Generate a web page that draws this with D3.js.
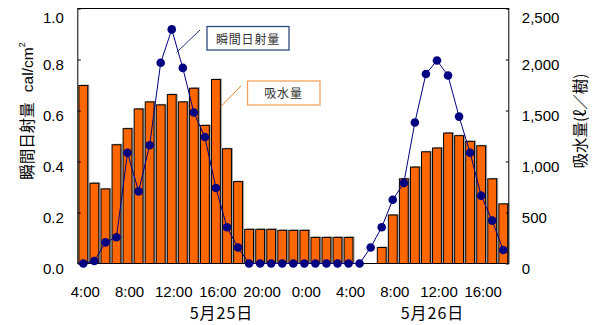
<!DOCTYPE html>
<html>
<head>
<meta charset="utf-8">
<script src="https://cdn.jsdelivr.net/npm/d3@7"></script>
<style>
  html, body { margin: 0; padding: 0; background: #fff; }
  svg { display: block; font-family: "Liberation Sans", Arial, "Noto Sans CJK JP", sans-serif; }
</style>
</head>
<body>
<svg id="chart" width="594" height="325"></svg>
<script>
// ---- data ----
const hours = ["4:00","5:00","6:00","7:00","8:00","9:00","10:00","11:00","12:00","13:00",
  "14:00","15:00","16:00","17:00","18:00","19:00","20:00","21:00","22:00","23:00",
  "0:00","1:00","2:00","3:00","4:00","5:00","6:00","7:00","8:00","9:00",
  "10:00","11:00","12:00","13:00","14:00","15:00","16:00","17:00","18:00"];
const radiation = [0, 0.01, 0.083, 0.103, 0.434, 0.283, 0.464, 0.787, 0.918, 0.767,
  0.592, 0.496, 0.296, 0.142, 0.063, 0, 0, 0, 0, 0,
  0, 0, 0, 0, 0, 0, 0.063, 0.142, 0.25, 0.316,
  0.553, 0.743, 0.796, 0.737, 0.576, 0.434, 0.266, 0.168, 0.053];
const water = [1745, 787, 731, 1164, 1322, 1515, 1584, 1555, 1656, 1584,
  1718, 1354, 1804, 1125, 803, 335, 335, 335, 325, 325,
  325, 256, 256, 256, 256, 0, 0, 157, 475, 830,
  945, 1095, 1132, 1279, 1253, 1197, 1154, 830, 584];
const tickLabels = ["4:00","8:00","12:00","16:00","20:00","0:00","4:00","8:00","12:00","16:00"];
const dayLabels = ["5月25日", "5月26日"];
const leftTicks = [0, 0.2, 0.4, 0.6, 0.8, 1.0];
const rightTicks = [0, 500, 1000, 1500, 2000, 2500];
const leftTitle = "瞬間日射量";
const leftUnit = "cal/cm";
const rightTitle = "吸水量(ℓ／樹)";
const legendRadiation = "瞬間日射量";
const legendWater = "吸水量";

// ---- layout ----
const svg = d3.select("#chart");
const x0 = 77.8, x1 = 508.8, y0 = 8.5, y1 = 263.5;
const idx = d3.range(hours.length);
const x = d3.scaleBand().domain(idx).range([x0, x1]).paddingInner(0.2).paddingOuter(0.1);
const cx = i => x(i) + x.bandwidth() / 2;
const yL = d3.scaleLinear().domain([0, 1]).range([y1, y0]);
const yR = d3.scaleLinear().domain([0, 2500]).range([y1, y0]);

// bars with shadow
const barData = idx.filter(i => water[i] > 0);
svg.append("g").selectAll("rect").data(barData).join("rect")
  .attr("x", i => x(i) + 1.6).attr("y", i => yR(water[i]) - 1)
  .attr("width", x.bandwidth()).attr("height", i => y1 - yR(water[i]) + 1)
  .attr("fill", "#a6a6a6");
svg.append("g").selectAll("rect").data(barData).join("rect")
  .attr("x", i => x(i)).attr("y", i => yR(water[i]))
  .attr("width", x.bandwidth()).attr("height", i => y1 - yR(water[i]))
  .attr("fill", "#ff6600").attr("stroke", "#000").attr("stroke-width", 1);

// plot border
svg.append("rect").attr("x", x0).attr("y", y0).attr("width", x1 - x0).attr("height", y1 - y0)
  .attr("fill", "none").attr("stroke", "#000").attr("stroke-width", 1);

// axes
const axL = svg.append("g").attr("transform", `translate(${x0},0)`)
  .call(d3.axisLeft(yL).tickValues(leftTicks).tickFormat(d3.format(".1f"))
    .tickSizeInner(-3).tickSizeOuter(0).tickPadding(14));
const axR = svg.append("g").attr("transform", `translate(${x1},0)`)
  .call(d3.axisRight(yR).tickValues(rightTicks).tickFormat(d3.format(","))
    .tickSizeInner(-3).tickSizeOuter(0).tickPadding(13));
[axL, axR].forEach(ax => {
  ax.select(".domain").remove();
  ax.attr("font-family", null).attr("font-size", null);
  ax.selectAll("text").attr("font-size", 15).attr("fill", "#000")
    .attr("transform", (d, i, n) => `translate(0,${i === n.length - 1 ? 9 : 5})`);
  ax.selectAll("line").attr("stroke", "#000");
});

// radiation line + markers
svg.append("path").datum(idx)
  .attr("d", d3.line().x(i => cx(i)).y(i => yL(radiation[i])))
  .attr("fill", "none").attr("stroke", "#000080").attr("stroke-width", 1);
svg.append("g").selectAll("circle").data(idx).join("circle")
  .attr("cx", i => cx(i)).attr("cy", i => yL(radiation[i])).attr("r", 4.3)
  .attr("fill", "#000080");

// x labels
svg.append("g").selectAll("text").data(tickLabels).join("text")
  .attr("x", (d, k) => cx(k * 4) + 2).attr("y", 297)
  .attr("text-anchor", "middle").attr("font-size", 15).text(d => d);
const dayPos = [12.5, 31.6];
svg.append("g").selectAll("text").data(dayLabels).join("text")
  .attr("x", (d, k) => x0 + x.step() * (dayPos[k] + 0.5)).attr("y", 319)
  .attr("text-anchor", "middle").attr("font-size", 16).attr("letter-spacing", 1)
  .attr("font-family", "'Noto Sans CJK JP', sans-serif").text(d => d);

// axis titles
const lt = svg.append("text").attr("transform", "translate(33,111) rotate(-90)")
  .attr("text-anchor", "middle").attr("font-size", 15.5);
lt.append("tspan").attr("font-family", "'Noto Sans CJK JP', sans-serif").text(leftTitle);
lt.append("tspan").attr("dx", 10).text(leftUnit);
lt.append("tspan").attr("font-size", 9).attr("dy", -8).text("2");

svg.append("text").attr("transform", "translate(586,121) rotate(-90)")
  .attr("text-anchor", "middle").attr("font-size", 15.5)
  .attr("font-family", "'Noto Sans CJK JP', sans-serif").text(rightTitle);

// callouts
svg.append("line").attr("x1", 200).attr("y1", 30).attr("x2", 176.5).attr("y2", 52.5)
  .attr("stroke", "#1f3a7a").attr("stroke-width", 1);
svg.append("rect").attr("x", 207).attr("y", 26.5).attr("width", 82).attr("height", 23.5)
  .attr("fill", "#fff").attr("stroke", "#2f4a80").attr("stroke-width", 1.3);
svg.append("text").attr("x", 248).attr("y", 43.5).attr("text-anchor", "middle")
  .attr("font-size", 12).attr("letter-spacing", 0.8).attr("fill", "#333")
  .attr("font-family", "'Noto Sans CJK JP', sans-serif").text(legendRadiation);

svg.append("line").attr("x1", 241).attr("y1", 86).attr("x2", 220.5).attr("y2", 107)
  .attr("stroke", "#f08030").attr("stroke-width", 1);
svg.append("rect").attr("x", 247.5).attr("y", 81).attr("width", 72.5).attr("height", 24)
  .attr("fill", "#fff").attr("stroke", "#f4a460").attr("stroke-width", 1.3);
svg.append("text").attr("x", 283.5).attr("y", 98).attr("text-anchor", "middle")
  .attr("font-size", 12).attr("letter-spacing", 0.8).attr("fill", "#333")
  .attr("font-family", "'Noto Sans CJK JP', sans-serif").text(legendWater);
</script>
</body>
</html>
